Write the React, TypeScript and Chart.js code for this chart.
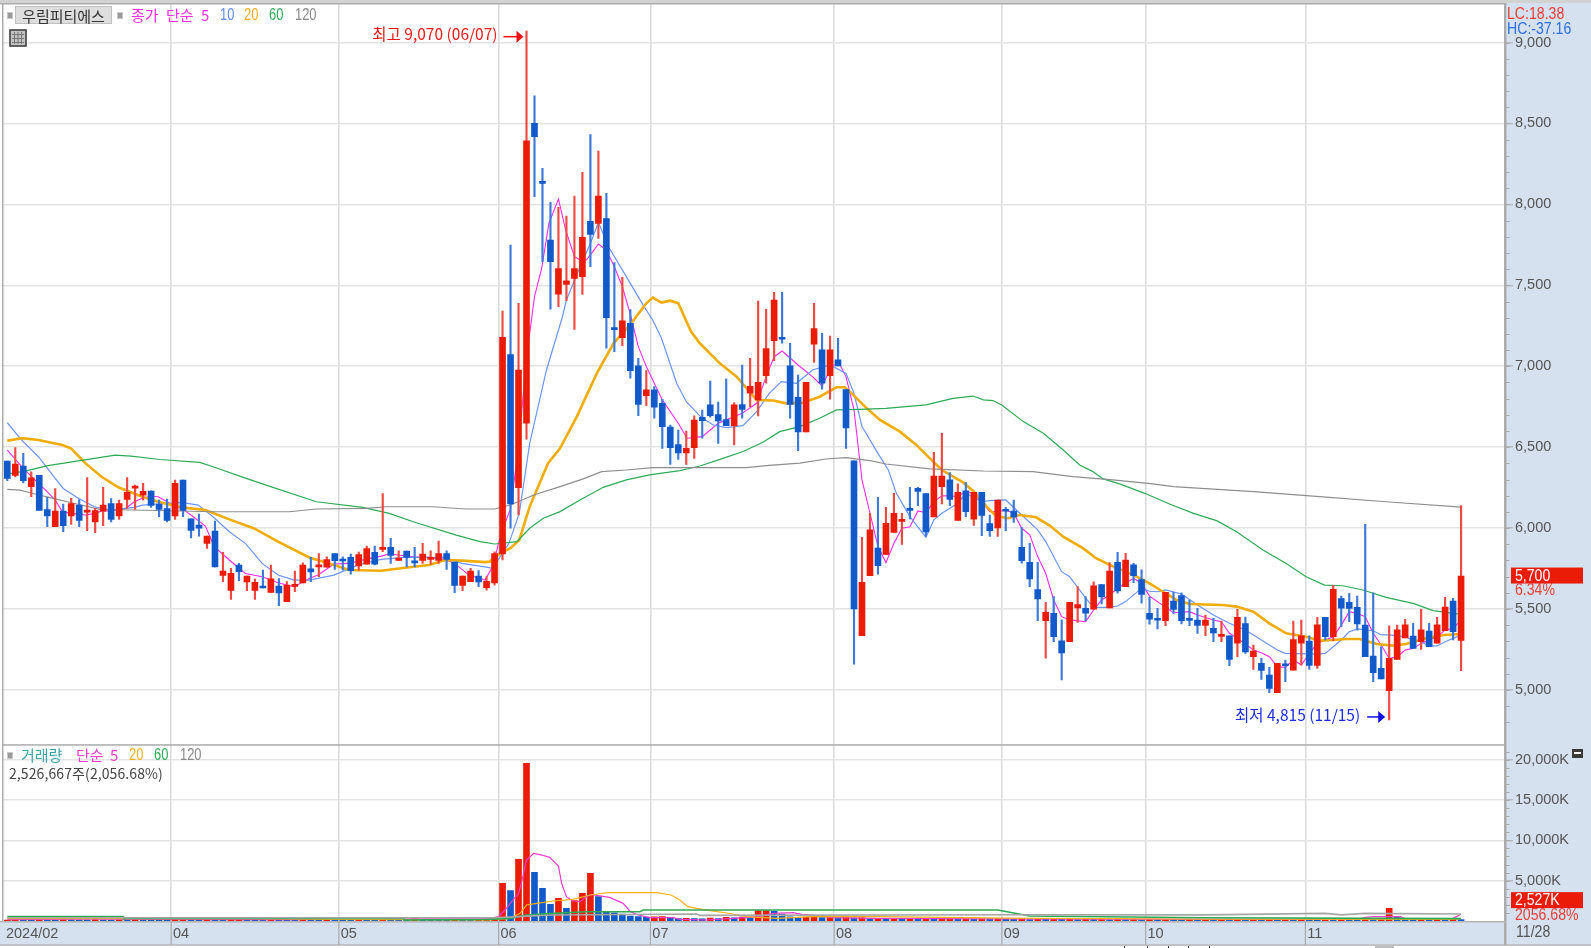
import React, { useEffect, useRef } from "react";
import { Chart, registerables } from "chart.js";

Chart.register(...registerables);

const opens = [6414,6326,6383,6256,6326,6114,6009,6105,6076,6142,6099,6039,6105,6151,6076,6177,6247,6204,6229,6149,6120,6076,6297,6058,6019,5906,5982,5708,5615,5772,5667,5615,5634,5603,5642,5545,5640,5661,5749,5761,5759,5842,5801,5819,5766,5778,5850,5869,5881,5801,5858,5789,5801,5807,5801,5842,5790,5646,5669,5704,5632,5661,5841,7072,6250,6648,8501,8138,7780,7446,7506,7543,7554,7895,7883,7912,7234,7177,7265,7002,6819,6854,6771,6625,6516,6464,6497,6685,6761,6701,6670,6633,6763,6833,6792,6942,7158,7175,7002,6808,6594,7136,7101,6942,7039,6856,6415,5336,5707,5876,5838,5974,6042,6121,6246,6213,6069,6256,6298,6048,6230,6055,6221,6028,6001,6112,6106,5882,5789,5620,5429,5474,5303,5299,5507,5505,5499,5651,5507,5789,5639,5773,5682,5473,5435,5428,5550,5583,5434,5432,5399,5381,5331,5335,5290,5410,5206,5165,5092,4983,5158,5123,5290,5302,5152,5449,5329,5564,5541,5510,5401,5210,5134,4996,5189,5321,5333,5298,5364,5290,5366,5550,5307];
const closes = [6307,6396,6293,6311,6109,6076,6105,6015,6151,6048,6105,6109,6142,6054,6151,6221,6252,6227,6140,6116,6048,6276,6109,5986,6000,5951,5761,5735,5720,5731,5704,5665,5630,5687,5599,5648,5646,5772,5729,5768,5805,5799,5797,5737,5836,5873,5778,5881,5831,5815,5819,5785,5840,5819,5842,5807,5646,5704,5735,5667,5671,5843,7179,6149,6977,8392,8418,8130,7646,7603,7527,7603,7797,7815,8052,7300,7226,7280,6973,6765,6854,6748,6627,6497,6464,6493,6668,6664,6695,6662,6633,6761,6734,6876,6901,7109,7409,7167,6765,6594,6901,7232,6895,7101,7002,6619,5501,5665,5989,5768,6030,6092,6053,6110,6226,5976,6322,6322,6178,6221,6102,6221,6079,5985,6174,6104,6069,5799,5686,5563,5480,5330,5229,5542,5528,5474,5643,5575,5735,5612,5803,5707,5591,5438,5431,5603,5498,5428,5430,5399,5432,5352,5340,5189,5449,5235,5241,5121,5010,5165,5150,5311,5335,5152,5403,5329,5622,5506,5504,5408,5206,5107,5068,5195,5372,5403,5257,5372,5267,5403,5512,5360,5704];
const highs = [6414,6497,6462,6348,6326,6190,6245,6149,6184,6177,6313,6122,6252,6182,6173,6313,6266,6276,6231,6173,6179,6297,6297,6058,6087,5951,6044,5850,5751,5782,5704,5685,5741,5772,5689,5669,5735,5786,5819,5842,5823,5842,5823,5840,5852,5889,5889,6214,5937,5860,5858,5881,5906,5860,5920,5860,5790,5704,5751,5737,5700,5854,7341,7749,7389,9070,8670,8223,8013,7982,7928,8052,8198,8431,8330,8068,7640,7549,7350,7049,6973,6874,6796,6637,6606,6600,6693,6730,6909,6779,6923,6775,7008,7049,7403,7352,7457,7457,7142,6946,6901,7389,7204,7187,7173,6856,6415,5943,6092,6191,6129,6215,6092,6252,6252,6213,6468,6586,6343,6273,6281,6221,6221,6081,6174,6129,6174,6005,5906,5789,5542,5577,5433,5542,5639,5577,5668,5651,5787,5851,5845,5783,5742,5573,5505,5603,5603,5601,5556,5504,5463,5442,5426,5335,5498,5451,5278,5195,5140,5165,5185,5426,5432,5335,5449,5449,5646,5580,5597,5580,6023,5601,5267,5397,5401,5436,5412,5498,5412,5449,5572,5566,6140];
const lows = [6293,6317,6280,6194,6109,6009,6009,5978,6023,6009,5984,5972,6015,6039,6054,6122,6116,6173,6128,6070,6039,6054,6070,5939,5951,5875,5761,5669,5560,5675,5613,5560,5630,5603,5521,5545,5607,5661,5669,5700,5759,5745,5741,5716,5741,5778,5772,5854,5782,5801,5761,5761,5782,5778,5782,5745,5601,5613,5669,5638,5617,5648,5803,5999,6081,6549,8048,7646,7352,7368,7405,7228,7444,7615,7790,7111,7090,7127,6926,6695,6757,6679,6493,6394,6425,6394,6431,6555,6685,6524,6633,6514,6679,6751,6693,6895,7035,7142,6679,6479,6594,7024,6858,6796,7002,6493,5159,5336,5707,5715,5838,5974,5900,6057,6139,5948,6069,6149,6139,6048,6071,6016,5954,5948,5948,5985,6036,5783,5639,5429,5196,5299,5062,5299,5418,5429,5499,5532,5507,5598,5639,5663,5536,5406,5377,5397,5473,5408,5397,5350,5335,5298,5298,5150,5206,5226,5127,5066,4983,4983,5051,5123,5154,5127,5134,5309,5305,5391,5422,5370,5206,5051,5068,4815,5189,5321,5257,5251,5267,5290,5366,5309,5120];
const volumes = [120,300,180,150,250,170,140,300,190,150,130,200,160,140,170,150,240,190,170,150,130,160,220,150,140,200,170,140,150,190,160,140,130,180,150,130,120,170,150,140,190,160,130,120,160,140,130,180,150,130,120,290,170,140,120,110,150,130,120,160,240,400,4667,3758,7640,19535,6030,4047,2065,2808,1570,2519,3428,5906,3015,1156,1000,850,620,560,500,520,560,420,300,330,310,270,350,310,440,390,480,430,1280,1300,1200,870,520,430,480,540,420,450,380,450,380,420,300,340,270,310,250,290,240,280,220,260,300,250,280,210,260,230,280,240,220,260,190,250,210,270,200,240,190,260,210,230,190,210,180,220,160,200,170,210,180,150,200,170,190,150,180,160,210,170,190,150,180,160,200,170,210,180,150,190,160,290,240,210,260,190,210,1570,537,300,220,260,180,230,190,220,170,210,180,2527];

const ma5: number[][] = [[0,6482],[2,6369],[3.9,6276],[4.8,6235],[6,6173],[6.9,6101],[8,6091],[9.8,6081],[10.9,6091],[11.8,6105],[12.9,6107],[14.8,6122],[15.9,6163],[16.9,6184],[18,6198],[18.9,6194],[19.8,6169],[20.9,6136],[21.8,6122],[23,6081],[24.8,6013],[25.9,5885],[27.8,5803],[29.8,5720],[31.9,5700],[33.9,5663],[35.9,5638],[37.8,5689],[38.9,5710],[40.9,5778],[42.8,5782],[44.8,5807],[46.8,5827],[47.8,5840],[50.9,5823],[52.8,5819],[54.8,5807],[56,5782],[57.8,5710],[59.8,5679],[60.75,5761],[61.5,5906],[62,5990],[63,6120],[64,6500],[65,7050],[66,7430],[66.9,7605],[67.8,7883],[69,8033],[69.9,7842],[71,7677],[71.7,7656],[72.5,7656],[73.3,7708],[74,7755],[75,7718],[76,7615],[77,7492],[78,7320],[79,7121],[80,6998],[82,6792],[84,6648],[85.1,6555],[87,6565],[89,6648],[92,6709],[93.8,6771],[95,6936],[96,7059],[97,7094],[99,7008],[100.8,6936],[102,6878],[103.3,7008],[104.25,7008],[105,6936],[106,6730],[107,6298],[108,6092],[109,5886],[110,5787],[111,5906],[112,5999],[113,6009],[114,6106],[115,6096],[116,6164],[117,6199],[118,6199],[119,6195],[120,6226],[121,6215],[122,6164],[123,6102],[124,6102],[125,6112],[126,6092],[127,5999],[128,5958],[129,5824],[130,5721],[131,5556],[132,5453],[133,5433],[135,5422],[136,5494],[137,5556],[138,5587],[139,5628],[140,5659],[141,5690],[142,5660],[143,5580],[146,5477],[148,5484],[149,5463],[151,5432],[152,5422],[153,5350],[154,5319],[156,5247],[157,5230],[158,5206],[159,5144],[160,5140],[161,5185],[162,5154],[163,5226],[164,5288],[165,5309],[166,5329],[167,5401],[168,5484],[169,5473],[170,5453],[171,5350],[172,5278],[173,5195],[174,5206],[175,5247],[176,5257],[177,5288],[178,5309],[179,5329],[180,5370],[181,5381],[182,5430]];
const ma10: number[][] = [[0,6651],[1.8,6544],[3.9,6441],[6,6307],[7,6245],[8.9,6184],[10.9,6132],[12.9,6111],[15.9,6128],[16.9,6142],[18.9,6149],[21.8,6159],[23.9,6142],[25.75,6070],[27.8,5978],[29.8,5906],[31.9,5782],[33.9,5710],[35.9,5679],[37.8,5679],[40.9,5710],[43.9,5772],[46.8,5807],[49.8,5819],[54.8,5819],[56.9,5782],[59.8,5761],[60.75,5751],[62.8,5906],[64.1,6092],[65.4,6524],[67.5,6977],[69.5,7306],[70,7409],[71.7,7615],[73,7759],[74,7889],[75.3,7735],[77.5,7554],[79.6,7378],[80.8,7286],[81.9,7173],[83.8,6895],[85,6781],[87,6678],[88.4,6637],[90,6621],[92.1,6633],[93.8,6720],[95.4,6833],[96.9,6905],[98.8,6895],[100.8,6977],[103,7008],[105,6956],[106,6833],[107,6627],[109,6462],[110.3,6359],[111.3,6215],[113,6071],[115,5943],[116,6051],[117,6092],[119,6154],[120,6215],[122,6164],[123,6170],[125,6174],[127,6081],[129,5989],[130,5917],[132,5731],[133,5700],[135,5567],[136,5511],[138,5511],[139,5519],[140,5546],[142,5628],[143,5610],[144,5607],[145,5618],[147,5593],[149,5525],[151,5463],[153,5412],[155,5370],[157,5309],[159,5247],[160,5226],[164,5222],[165,5226],[167,5309],[168,5360],[169,5377],[171,5366],[172,5340],[173,5340],[175,5329],[176,5309],[177,5298],[178,5272],[179,5272],[180,5298],[181,5319],[182,5340]];
const ma20: number[][] = [[0,6540],[1.8,6556],[3.9,6544],[6.9,6513],[8,6492],[9.8,6400],[11.8,6317],[13.9,6252],[16.9,6194],[18.9,6163],[21.8,6128],[24.8,6112],[27.8,6054],[30.9,5998],[33.9,5916],[37.8,5819],[40.9,5772],[42.8,5741],[46.8,5737],[49.8,5755],[52.8,5772],[54.8,5803],[56.9,5799],[59.8,5790],[60.4,5793],[61.7,5845],[63,5876],[64.1,5927],[65.4,6133],[67.7,6401],[69.2,6493],[71.3,6689],[73.8,6956],[75.9,7142],[78.1,7265],[80,7389],[80.8,7424],[81.9,7393],[83,7405],[84,7389],[85.6,7214],[86.7,7142],[89.2,7018],[91.3,6936],[93.8,6792],[95.9,6788],[97.5,6771],[99.6,6775],[101.7,6812],[103.8,6870],[104.8,6870],[105.5,6843],[107.6,6740],[109.25,6668],[111.75,6596],[113.8,6514],[115.5,6431],[117,6359],[119.7,6281],[121,6226],[122.6,6133],[123.8,6075],[125.3,6061],[126.75,6081],[128.8,6067],[130.5,6016],[132.2,5947],[134.7,5875],[136.3,5814],[138,5773],[140,5731],[141.4,5700],[143,5659],[144.7,5607],[146.4,5556],[148,5531],[152.2,5525],[153.9,5515],[156,5484],[158,5412],[160.1,5350],[162.6,5329],[164.3,5305],[166,5309],[167.6,5315],[169.3,5315],[171.4,5284],[173.5,5274],[175.1,5284],[177.6,5319],[179.9,5340],[182,5346]];
const ma60: number[][] = [[0,6334],[2.4,6354],[4.9,6385],[9.5,6420],[13.5,6451],[15.5,6445],[19.1,6424],[24.1,6406],[25.75,6379],[29.9,6307],[33.25,6252],[38.7,6163],[44.5,6128],[47.8,6091],[51.2,6033],[56.2,5957],[59.2,5917],[61,5902],[63.8,5917],[65.4,5999],[67.1,6061],[69.2,6102],[71.7,6174],[74.6,6252],[77.5,6298],[80.4,6329],[84.2,6355],[86.7,6384],[89.6,6431],[92.1,6473],[94.6,6530],[96.7,6596],[99.2,6627],[101.7,6679],[103.8,6730],[106.7,6734],[110,6740],[115,6761],[118.4,6802],[120.9,6816],[122.2,6792],[123.4,6788],[124.5,6761],[127.2,6658],[129.7,6586],[132.2,6483],[134.25,6390],[135.9,6349],[137.2,6304],[139.25,6273],[142.4,6215],[145.5,6149],[148.5,6091],[151.4,6046],[153.9,5978],[157.2,5865],[160.1,5782],[162.6,5700],[164.9,5648],[167.2,5644],[169.7,5618],[172.6,5572],[176,5535],[178.5,5490],[181,5473],[182,5468]];
const ma120: number[][] = [[0,6239],[1.6,6235],[3.25,6214],[5.75,6184],[8.7,6149],[11.6,6116],[15.75,6112],[25.75,6101],[35.3,6101],[38.7,6118],[44.9,6122],[47.4,6132],[53.25,6132],[57.4,6118],[61,6118],[63,6143],[65.9,6205],[69.2,6256],[72.1,6304],[74.4,6349],[77.5,6359],[80.8,6374],[92.5,6374],[95.4,6388],[99.2,6401],[102.5,6427],[105,6436],[108,6417],[110,6396],[115.5,6366],[122.2,6353],[128.4,6349],[133.4,6318],[138.4,6298],[143.4,6273],[146,6256],[156,6225],[164.3,6194],[172.6,6163],[182,6130]];

const vol5: number[][] = [[0,170],[10,220],[20,190],[35,170],[50,260],[60.4,290],[61.5,540],[62.3,1363],[63.3,2600],[64,3428],[64.4,4873],[65,7558],[65.9,8384],[66.9,8177],[67.9,7888],[69,6814],[69.4,4667],[70,3015],[70.8,2478],[71.7,2395],[72.5,3015],[73.1,3304],[74,3139],[75.4,2932],[77.1,2189],[78,1156],[79,743],[80.4,413],[83.4,413],[84.2,206],[87.5,124],[90.9,330],[94.2,537],[95.9,950],[98.4,1032],[99.4,826],[100.8,743],[103.3,413],[109,330],[125,260],[150,200],[169,200],[170,450],[171,530],[174.4,530],[175,290],[181,330],[182,826]];
const vol20: number[][] = [[0,290],[30,290],[40,200],[60.4,124],[62.9,330],[64.2,950],[65,1982],[66.3,2189],[68.3,2478],[70.8,2684],[73,3221],[75.2,3510],[81.3,3510],[83.1,3221],[84.2,2602],[85.2,1776],[86.3,1570],[88,1280],[90.9,867],[92.5,537],[96.3,330],[100.8,537],[109,537],[125,350],[150,220],[181,207],[182,290]];
const vol60: number[][] = [[0,537],[14.5,537],[14.6,330],[49.6,330],[49.7,125],[60,206],[63,330],[65,743],[68.3,950],[72.5,1156],[79.2,1156],[79.6,1363],[124,1363],[128,620],[150,400],[182,290]];
const vol120: number[][] = [[0,410],[61,410],[65,600],[68.3,743],[86.3,867],[86.7,700],[125,780],[150,760],[165,950],[167,760],[170,950],[182,870]];

const monthTicks = [-0.42, 20.5, 41.5, 61.5, 80.5, 103.5, 124.5, 142.5, 162.5];
const monthLabels = ["2024/02", "04", "05", "06", "07", "08", "09", "10", "11"];
const priceTicks = [5000, 5500, 6000, 6500, 7000, 7500, 8000, 8500, 9000];
const volumeTicks = [5000, 10000, 15000, 20000];
const lastDateLabel = "11/28";

const UP = "#EA1C08";
const DOWN = "#1259C9";
const UP_WICK = "#EE4A42";
const DOWN_WICK = "#3D79D9";
const PANEL = "#D6E1EF";
const LATIN = '"Liberation Sans", sans-serif';
const CJK = '"Noto Sans CJK KR", sans-serif';
const AXIS_FONT = { family: "Liberation Sans", size: 14.5 };

const idx = opens.map((_, i) => i);
const pts = (list: number[][]) => list.map(([x, y]) => ({ x, y }));

function lineSet(list: number[][], color: string, width: number, axis: string, order: number) {
  return {
    type: "line" as const,
    data: pts(list),
    borderColor: color,
    borderWidth: width,
    pointRadius: 0,
    tension: 0,
    yAxisID: axis,
    order,
  };
}

function hairTicks(ctx: CanvasRenderingContext2D, scale: any, from: number, to: number, step: number, x: number) {
  ctx.strokeStyle = "#A8A8A8";
  ctx.lineWidth = 1;
  for (let v = from; v <= to; v += step) {
    const y = Math.round(scale.getPixelForValue(v)) + 0.5;
    ctx.beginPath();
    ctx.moveTo(x, y);
    ctx.lineTo(x + 3.5, y);
    ctx.stroke();
  }
}

function arrow(ctx: CanvasRenderingContext2D, x0: number, x1: number, y: number, color: string) {
  ctx.strokeStyle = color;
  ctx.fillStyle = color;
  ctx.lineWidth = 1.5;
  ctx.beginPath();
  ctx.moveTo(x0, y);
  ctx.lineTo(x1 - 5, y);
  ctx.stroke();
  ctx.beginPath();
  ctx.moveTo(x1, y);
  ctx.lineTo(x1 - 7, y - 6);
  ctx.lineTo(x1 - 7, y + 6);
  ctx.closePath();
  ctx.fill();
}

// Tall, narrow figures as in the reference: a 17px face squeezed horizontally.
function slimText(ctx: CanvasRenderingContext2D, text: string, x: number, y: number, color: string) {
  ctx.save();
  ctx.translate(x, y);
  ctx.scale(0.83, 1);
  ctx.font = `17px ${LATIN}`;
  ctx.fillStyle = color;
  ctx.textAlign = "left";
  ctx.textBaseline = "middle";
  ctx.fillText(text, 0, 0);
  ctx.restore();
}

const noPadding = (s: any) => {
  s.paddingTop = 0;
  s.paddingBottom = 0;
  s.paddingLeft = 0;
  s.paddingRight = 0;
};

const chrome = {
  id: "chrome",
  beforeDraw(chart: any) {
    const { ctx, chartArea: a, width, height } = chart;
    ctx.save();
    ctx.fillStyle = PANEL;
    ctx.fillRect(0, 0, width, height);
    ctx.fillStyle = "#D2D2D2";
    ctx.fillRect(0, 0, width, 3);
    ctx.fillStyle = "#FFFFFF";
    ctx.fillRect(0, 3, a.right, a.bottom - 3);
    ctx.restore();
  },
  afterDraw(chart: any) {
    const { ctx, chartArea: a, width, height, scales } = chart;
    const right = a.right;
    ctx.save();
    // panel frame
    ctx.fillStyle = "#ABABAB";
    ctx.fillRect(2, 3, 1.5, a.bottom - 3);
    ctx.fillRect(0, 3, right, 1.5);
    ctx.fillRect(3, scales.yv.top - 0.5, right - 3, 1.5);
    ctx.fillRect(right - 1, 3, 2.5, 942);
    ctx.fillStyle = "#B5B5B5";
    ctx.fillRect(0, a.bottom, right + 1, 1.5);
    // month separators in the date band
    ctx.fillStyle = "#A8A8A8";
    monthTicks.slice(1).forEach((m) => {
      ctx.fillRect(scales.x.getPixelForValue(m) - 0.5, a.bottom, 1.2, 945 - a.bottom);
    });
    // foot of the window
    ctx.fillStyle = "#FFFFFF";
    ctx.fillRect(0, 945, width, height - 945);
    ctx.fillStyle = "#A8A8A8";
    ctx.fillRect(0, 944.5, width, 1.2);
    ctx.fillStyle = "#444444";
    [1124, 1147, 1168, 1188, 1209].forEach((x) => ctx.fillRect(x, 946, 1, 2));
    ctx.fillStyle = "#BDBDBD";
    ctx.fillRect(1375, 946, 19, 2);

    hairTicks(ctx, scales.y, 4800, 9200, 100, right + 1);
    hairTicks(ctx, scales.yv, 1000, 21000, 1000, right + 1);

    // cover for the top of the axis, then the LC / HC figures
    ctx.fillStyle = PANEL;
    ctx.fillRect(right + 1.5, 5, width - right, 30);
    slimText(ctx, "LC:18.38", right + 2, 14.5, "#E8403A");
    slimText(ctx, "HC:-37.16", right + 2, 29.5, "#2D6FE0");

    // small collapse button on the volume pane
    ctx.fillStyle = "#3A3A3A";
    ctx.fillRect(1572, 749, 11, 9);
    ctx.fillStyle = "#FFFFFF";
    ctx.fillRect(1574, 752, 7, 2);

    // current price and volume flags
    const priceY = scales.y.getPixelForValue(closes[closes.length - 1]);
    ctx.fillStyle = UP;
    ctx.fillRect(1511, priceY - 8.5, 72, 16);
    slimText(ctx, "5,700", 1515, priceY, "#FFFFFF");
    slimText(ctx, "6.34%", 1515, priceY + 14.5, "#E8403A");
    const volY = scales.yv.getPixelForValue(volumes[volumes.length - 1]);
    ctx.fillStyle = UP;
    ctx.fillRect(1511, volY - 8.5, 72, 16);
    slimText(ctx, "2,527K", 1515, volY, "#FFFFFF");
    slimText(ctx, "2056.68%", 1515, volY + 14.5, "#E8403A");

    slimText(ctx, lastDateLabel, 1516, a.bottom + 11, "#555555");

    // high and low call-outs
    ctx.textBaseline = "middle";
    const hx = scales.x.getPixelForValue(65);
    const hy = scales.y.getPixelForValue(9070);
    ctx.font = `15.5px ${CJK}`;
    ctx.fillStyle = "#F01818";
    ctx.textAlign = "right";
    ctx.fillText("최고 9,070 (06/07)", hx - 29, hy + 3);
    arrow(ctx, hx - 23, hx - 3, hy + 5.5, "#F01010");
    const lx = scales.x.getPixelForValue(173);
    const ly = scales.y.getPixelForValue(4815);
    ctx.fillStyle = "#1C2BE0";
    ctx.fillText("최저 4,815 (11/15)", lx - 29, ly - 5);
    arrow(ctx, lx - 22, lx - 4, ly - 3, "#1010E8");

    // table icon
    ctx.fillStyle = "#C4C4C4";
    ctx.fillRect(9.5, 29.5, 17, 17);
    ctx.strokeStyle = "#3A3A3A";
    ctx.lineWidth = 1.5;
    ctx.strokeRect(10, 30, 16, 16);
    ctx.strokeStyle = "#777777";
    ctx.lineWidth = 1;
    [14.5, 18, 21.5].forEach((x) => {
      ctx.beginPath();
      ctx.moveTo(x, 32);
      ctx.lineTo(x, 44);
      ctx.stroke();
    });
    [34.5, 38.5, 42.5].forEach((y) => {
      ctx.beginPath();
      ctx.moveTo(12, y);
      ctx.lineTo(24, y);
      ctx.stroke();
    });
    ctx.restore();
  },
};

const cjkLabel = (left: number, top: number, color: string): React.CSSProperties => ({
  position: "absolute",
  left,
  top,
  color,
  fontFamily: CJK,
  fontSize: 15,
  lineHeight: "18px",
  whiteSpace: "nowrap",
});

const slimLabel = (left: number, top: number, color: string): React.CSSProperties => ({
  position: "absolute",
  left,
  top,
  color,
  fontFamily: LATIN,
  fontSize: 17,
  lineHeight: "18px",
  whiteSpace: "nowrap",
  transform: "scaleX(0.76)",
  transformOrigin: "left center",
});

const square = (left: number, top: number): React.CSSProperties => ({
  position: "absolute",
  left,
  top,
  width: 4,
  height: 5,
  background: "#9A9A9A",
  border: "1px solid #C8C8C8",
});

export default function App() {
  const ref = useRef<HTMLCanvasElement | null>(null);

  useEffect(() => {
    const chart = new Chart(ref.current as HTMLCanvasElement, {
      type: "bar",
      data: {
        datasets: [
          lineSet(ma120, "#8E8E8E", 1.2, "y", 5),
          lineSet(ma60, "#2FA956", 1.2, "y", 5),
          lineSet(ma20, "#F0AC0A", 2.6, "y", 5),
          lineSet(ma10, "#6C94F6", 1.2, "y", 5),
          lineSet(ma5, "#FB2CEA", 1.1, "y", 5),
          {
            type: "bar" as const,
            data: idx.map((i) => ({ x: i, y: [lows[i], highs[i]] })),
            backgroundColor: idx.map((i) => (closes[i] >= opens[i] ? UP_WICK : DOWN_WICK)),
            barThickness: 1.5,
            grouped: false,
            yAxisID: "y",
            order: 2,
          },
          {
            type: "bar" as const,
            data: idx.map((i) => ({ x: i, y: [opens[i], closes[i]] })),
            backgroundColor: idx.map((i) => (closes[i] >= opens[i] ? UP : DOWN)),
            barThickness: 6,
            minBarLength: 2,
            grouped: false,
            yAxisID: "y",
            order: 1,
          },
          {
            type: "bar" as const,
            data: idx.map((i) => ({ x: i, y: volumes[i] })),
            backgroundColor: idx.map((i) => (i === 0 || volumes[i] >= volumes[i - 1] ? UP : DOWN)),
            barThickness: 6,
            grouped: false,
            yAxisID: "yv",
            order: 3,
          },
          lineSet(vol120, "#A6A6A6", 1.6, "yv", 0),
          lineSet(vol60, "#2FA956", 1.6, "yv", 0),
          lineSet(vol20, "#F5B01A", 1.2, "yv", 0),
          lineSet(vol5, "#EE3CCB", 1.2, "yv", 0),
        ] as any,
      },
      options: {
        animation: false,
        responsive: false,
        devicePixelRatio: 1,
        layout: { autoPadding: false, padding: { left: 3, top: 4, right: 0, bottom: 0 } },
        plugins: { legend: { display: false }, tooltip: { enabled: false }, title: { display: false } },
        scales: {
          x: {
            type: "linear",
            min: -0.538,
            max: 187.5,
            offset: false,
            afterBuildTicks: (s: any) => {
              s.ticks = monthTicks.map((value) => ({ value }));
            },
            afterFit: (s: any) => {
              s.height = 27;
              noPadding(s);
            },
            grid: {
              offset: false,
              color: (c: any) => (c.index === 0 ? "rgba(0,0,0,0)" : "#DCDCDC"),
              lineWidth: 1.6,
              drawTicks: false,
            },
            border: { display: false },
            ticks: {
              autoSkip: false,
              maxRotation: 0,
              align: "start",
              padding: 4,
              labelOffset: 2,
              color: "#555555",
              font: AXIS_FONT,
              callback: (v: any) => {
                const k = monthTicks.indexOf(Number(v));
                return k >= 0 ? monthLabels[k] : "";
              },
            },
          },
          y: {
            type: "linear",
            position: "right",
            stack: "panes",
            stackWeight: 740.7,
            weight: 1,
            min: 4662,
            max: 9238,
            afterBuildTicks: (s: any) => {
              s.ticks = priceTicks.map((value) => ({ value }));
            },
            afterFit: (s: any) => {
              s.width = 86;
              noPadding(s);
            },
            grid: { color: "#E3E3E3", lineWidth: 1.6, tickColor: "#A8A8A8", tickWidth: 1, tickLength: 8 },
            border: { display: false },
            ticks: {
              crossAlign: "near",
              padding: 2,
              color: "#555555",
              font: AXIS_FONT,
              callback: (v: any) => Number(v).toLocaleString("en-US"),
            },
          },
          yv: {
            type: "linear",
            position: "right",
            stack: "panes",
            stackWeight: 176.3,
            weight: 2,
            min: 0,
            max: 21856,
            afterBuildTicks: (s: any) => {
              s.ticks = volumeTicks.map((value) => ({ value }));
            },
            afterFit: (s: any) => {
              s.width = 86;
              noPadding(s);
            },
            grid: { color: "#E3E3E3", lineWidth: 1.6, tickColor: "#A8A8A8", tickWidth: 1, tickLength: 8 },
            border: { display: false },
            ticks: {
              crossAlign: "near",
              padding: 2,
              color: "#555555",
              font: AXIS_FONT,
              callback: (v: any) => `${Number(v).toLocaleString("en-US")}K`,
            },
          },
        },
      } as any,
      plugins: [chrome],
    });
    return () => chart.destroy();
  }, []);

  return (
    <div style={{ position: "fixed", left: 0, top: 0, width: 1591, height: 948, overflow: "hidden", background: PANEL }}>
      <canvas ref={ref} width={1591} height={948} style={{ display: "block", width: 1591, height: 948 }} />
      <div style={square(7, 12)} />
      <div
        style={{
          position: "absolute",
          left: 15,
          top: 6,
          width: 97,
          height: 18,
          boxSizing: "border-box",
          background: "#DEDEDE",
          border: "1px solid #C0C0C0",
          color: "#333333",
          fontFamily: CJK,
          fontSize: 15,
          lineHeight: "17px",
          textAlign: "center",
        }}
      >
        우림피티에스
      </div>
      <div style={square(117, 12)} />
      <span style={{ ...cjkLabel(131, 6, "#FB2CEA"), wordSpacing: 4 }}>종가 단순 5</span>
      <span style={slimLabel(220, 6, "#5C8DF5")}>10</span>
      <span style={slimLabel(244, 6, "#F5B01A")}>20</span>
      <span style={slimLabel(269, 6, "#2FA956")}>60</span>
      <span style={slimLabel(295, 6, "#8A8A8A")}>120</span>

      <div style={square(7, 752)} />
      <span style={cjkLabel(21, 746, "#3AA5A8")}>거래량</span>
      <span style={{ ...cjkLabel(76, 746, "#EE3CCB"), wordSpacing: 3 }}>단순 5</span>
      <span style={slimLabel(129, 746, "#F5B01A")}>20</span>
      <span style={slimLabel(154, 746, "#2FA956")}>60</span>
      <span style={slimLabel(180, 746, "#8A8A8A")}>120</span>
      <span style={{ ...cjkLabel(9, 764, "#444444"), fontSize: 14, letterSpacing: 0.1 }}>2,526,667주(2,056.68%)</span>
    </div>
  );
}
